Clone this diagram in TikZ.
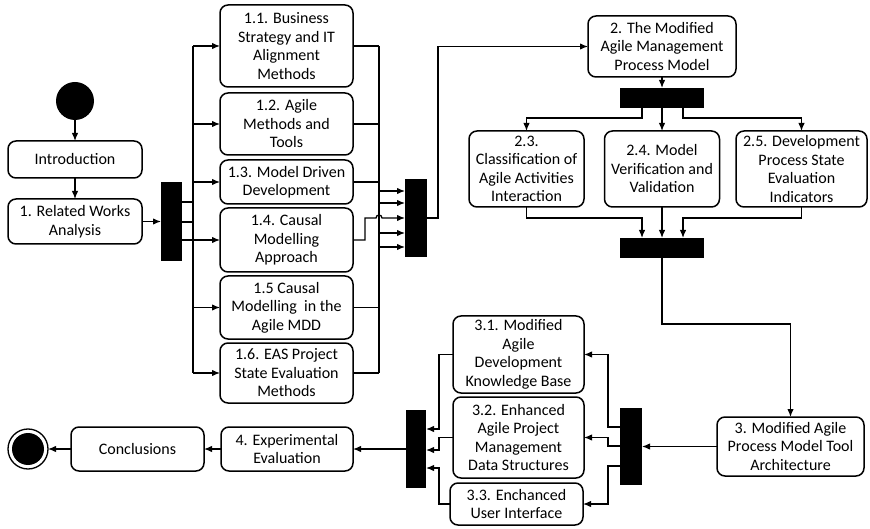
\documentclass[tikz,border=0pt]{standalone}
\usepackage{fontspec}
\setmainfont{Carlito}
\usetikzlibrary{arrows.meta}
\begin{document}
\begin{tikzpicture}[x=1pt,y=-1pt,
  every node/.style={inner sep=0pt, outer sep=0pt},
  stagebox/.style={draw, line width=1.5pt, rounded corners=8pt, align=center,
    font=\fontsize{16}{18.5}\selectfont},
  syncbar/.style={fill=black, draw=none},
  flow/.style={line width=1.3pt, -{Latex[length=8pt,width=6.5pt]}},
  link/.style={line width=1.3pt},
  startdot/.style={circle, fill=black, minimum size=38pt},
  enddot/.style={circle, draw, line width=1.3pt, minimum size=40pt,
    path picture={\fill[black] (path picture bounding box.center) circle (16pt);}}
]
\useasboundingbox (0,0) rectangle (870,529);

% ---- start and introduction
\node[startdot] (start) at (75,101) {};
\node[stagebox, minimum width=134pt, minimum height=37pt] (intro) at (75,159.5) {Introduction};
\node[stagebox, minimum width=134pt, minimum height=45pt] (rw) at (75,221.5) {1. Related Works\\Analysis};
\node[syncbar, minimum width=21pt, minimum height=79pt] (bar1) at (171.5,221.5) {};

% ---- related works sub-stages
\node[stagebox, minimum width=133pt, minimum height=82pt] (b11) at (286.5,46) {1.1. Business\\Strategy and IT\\Alignment\\Methods};
\node[stagebox, minimum width=133pt, minimum height=62pt] (b12) at (286.5,124) {1.2. Agile\\Methods and\\Tools};
\node[stagebox, minimum width=133pt, minimum height=44pt] (b13) at (286.5,182) {1.3. Model Driven\\Development};
\node[stagebox, minimum width=133pt, minimum height=64pt] (b14) at (286.5,240) {1.4. Causal\\Modelling\\Approach};
\node[stagebox, minimum width=133pt, minimum height=63pt] (b15) at (286.5,307.5) {1.5 Causal\\Modelling\ \ in the\\Agile MDD};
\node[stagebox, minimum width=133pt, minimum height=60pt] (b16) at (286.5,373) {1.6. EAS Project\\State Evaluation\\Methods};
\node[syncbar, minimum width=22pt, minimum height=78pt] (bar2) at (416,218) {};

% ---- process model stages
\node[stagebox, minimum width=148pt, minimum height=61pt] (b2) at (662,46.5) {2. The Modified\\Agile Management\\Process Model};
\node[syncbar, minimum width=84pt, minimum height=20pt] (bar3) at (662,98) {};
\node[stagebox, minimum width=115pt, minimum height=76pt] (b23) at (526.5,169) {2.3.\\Classification of\\Agile Activities\\Interaction};
\node[stagebox, minimum width=115pt, minimum height=76pt] (b24) at (662,169) {2.4. Model\\Verification and\\Validation};
\node[stagebox, minimum width=131pt, minimum height=76pt] (b25) at (801.5,169) {2.5. Development\\Process State\\Evaluation\\Indicators};
\node[syncbar, minimum width=84pt, minimum height=20pt] (bar4) at (662,248) {};

% ---- tool architecture stages
\node[stagebox, minimum width=147pt, minimum height=59pt] (b3) at (790.5,446.5) {3. Modified Agile\\Process Model Tool\\Architecture};
\node[syncbar, minimum width=22pt, minimum height=77pt] (bar5) at (631,446.5) {};
\node[stagebox, minimum width=131pt, minimum height=77pt] (b31) at (518.5,354.5) {3.1. Modified\\Agile\\Development\\Knowledge Base};
\node[stagebox, minimum width=131pt, minimum height=81pt] (b32) at (518.5,437.5) {3.2. Enhanced\\Agile Project\\Management\\Data Structures};
\node[stagebox, minimum width=133pt, minimum height=42pt] (b33) at (516.5,504) {3.3. Enchanced\\User Interface};
\node[syncbar, minimum width=20pt, minimum height=78pt] (bar6) at (416,449) {};

% ---- evaluation and end
\node[stagebox, minimum width=132pt, minimum height=44pt] (b4) at (287,449) {4. Experimental\\Evaluation};
\node[stagebox, minimum width=133pt, minimum height=44pt] (conc) at (137.5,449) {Conclusions};
\node[enddot] (end) at (28,449) {};

% ---- rails
\coordinate (railL) at (193,0);
\coordinate (railR) at (379,0);

% start -> introduction -> related works -> fork
\draw[flow] (start) -- (intro);
\draw[flow] (intro) -- (rw);
\draw[flow] (rw) -- (bar1);

% fork into related works sub-stages
\draw[link] (bar1.east |- 0,202) -- (railL |- 0,202);
\draw[link] (bar1.east |- 0,222) -- (railL |- 0,222);
\draw[link] (railL |- b11.west) -- (railL |- b16.west);
\draw[flow] (railL |- b11.west) -- (b11.west);
\draw[flow] (railL |- b12.west) -- (b12.west);
\draw[flow] (railL |- b13.west) -- (b13.west);
\draw[flow] (bar1.east |- b14.west) -- (b14.west);
\draw[flow] (railL |- b15.west) -- (b15.west);
\draw[flow] (railL |- b16.west) -- (b16.west);

% join of related works sub-stages
\draw[link] (b11.east) -- (railR |- b11.east);
\draw[link] (b12.east) -- (railR |- b12.east);
\draw[link] (b13.east) -- (railR |- b13.east);
\draw[link] (b15.east) -- (railR |- b15.east);
\draw[link] (b16.east) -- (railR |- b16.east);
\draw[link] (railR |- b11.east) -- (railR |- b16.east);
\draw[flow] (railR |- 0,191) -- (bar2.west |- 0,191);
\draw[flow] (railR |- 0,203) -- (bar2.west |- 0,203);
\draw[flow] (railR |- 0,233) -- (bar2.west |- 0,233);
\draw[flow] (railR |- 0,247) -- (bar2.west |- 0,247);
\draw[flow] (b14.east) -- (365,240) -- (365,218) -- (376,218)
  arc[start angle=180, end angle=0, radius=3pt] -- (bar2.west |- 0,218);

% to process model
\draw[flow] (bar2.east) -- (438,218) |- (b2.west);
\draw[flow] (b2) -- (bar3);
\draw[flow] (bar3.south -| 642,0) -- (642,118) -| (b23.north);
\draw[flow] (bar3) -- (b24);
\draw[flow] (bar3.south -| 683,0) -- (683,118) -| (b25.north);
\draw[flow] (b23.south) -- (b23.south |- 0,218) -| (bar4.north -| 642,0);
\draw[flow] (b24) -- (bar4);
\draw[flow] (b25.south) -- (b25.south |- 0,218) -| (bar4.north -| 683,0);

% to tool architecture
\draw[flow] (bar4.south) -- (662,324) -| (b3.north);
\draw[flow] (b3.west) -- (bar5.east);
\draw[flow] (bar5.west |- 0,427) -- (608,427) |- (b31.east);
\draw[flow] (bar5.west |- 0,446) -- (608,446) |- (b32.east);
\draw[flow] (bar5.west |- 0,466) -- (608,466) |- (b33.east);
\draw[flow] (b31.west) -- (439,354.5) |- (bar6.east |- 0,429);
\draw[flow] (b32.west) -- (439,437.5) |- (bar6.east |- 0,450);
\draw[flow] (b33.west) -- (439,504) |- (bar6.east |- 0,468);

% evaluation, conclusions, end
\draw[flow] (bar6.west) -- (b4.east);
\draw[flow] (b4.west) -- (conc.east);
\draw[flow] (conc.west) -- (end.east);
\end{tikzpicture}
\end{document}
